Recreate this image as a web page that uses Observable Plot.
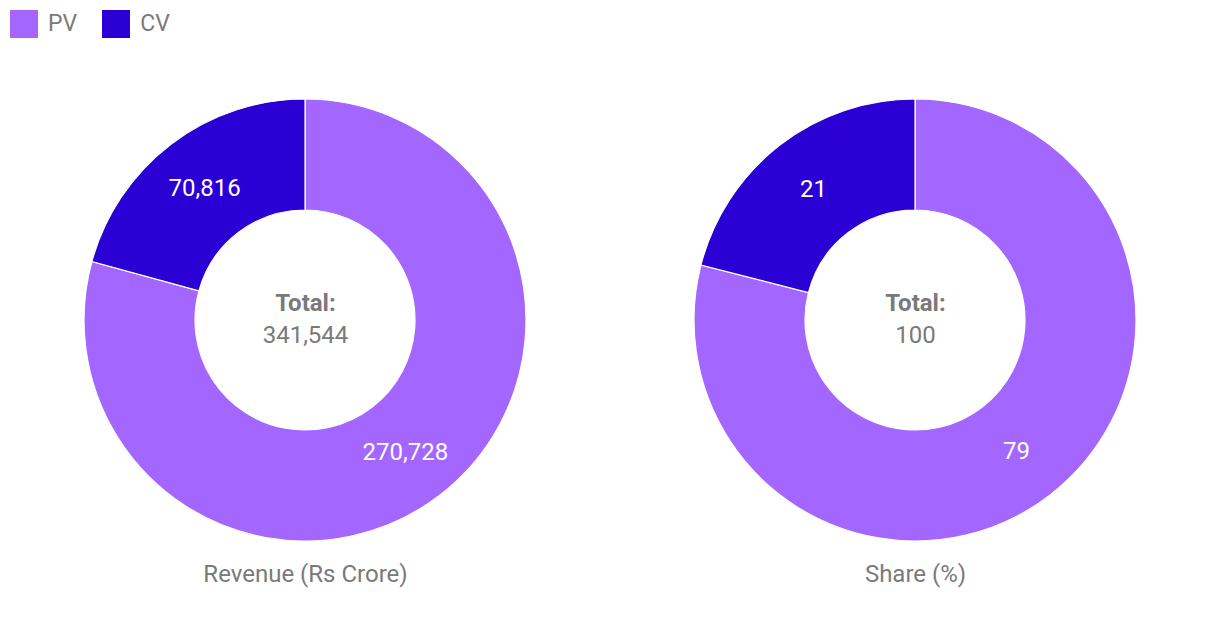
<!DOCTYPE html>
<html>
<head>
<meta charset="utf-8">
<script src="https://cdn.jsdelivr.net/npm/d3@7"></script>
<script src="https://cdn.jsdelivr.net/npm/@observablehq/plot@0.6"></script>
<style>
  html, body { margin: 0; padding: 0; background: #fff; }
  #legend { height: 48px; box-sizing: border-box; padding: 7px 0 0 10px; }
  .lg-swatch { margin-right: 25px !important; }
  .lg-swatch svg { margin-right: 10px !important; }
  #chart svg { display: block; }
</style>
</head>
<body>
<div id="legend"></div>
<div id="chart"></div>
<script>
const metrics = ["Revenue (Rs Crore)", "Share (%)"];
const segments = ["PV", "CV"];
const colors = ["#a366ff", "#2a00d4"];
const revenue = [270728, 70816];
const share = [79, 21];
const seriesByMetric = [revenue, share];

const rows = [];
metrics.forEach((m, mi) => {
  segments.forEach((s, si) => {
    rows.push({metric: m, segment: s, value: seriesByMetric[mi][si]});
  });
});
const totals = metrics.map((m, mi) => ({metric: m, total: d3.sum(seriesByMetric[mi])}));

const fmt = d3.format(",");
const innerFrac = 110 / 221;
const gray = "#7a7a7a";
const font = "Roboto, sans-serif";

// Legend
const legend = Plot.legend({
  color: {domain: segments, range: colors},
  legend: "swatches",
  swatchSize: 28,
  className: "lg",
  style: {fontSize: "23px", fontFamily: font, color: gray, background: "transparent"}
});
document.getElementById("legend").append(legend);

function donutRender(index, scales, values) {
  const r = Math.abs(scales.y(1) - scales.y(0));
  const idx = Array.from(index);
  const pie = d3.pie().sort(null).value(i => rows[i].value)(idx);
  const arc = d3.arc().innerRadius(r * innerFrac).outerRadius(r);
  const g = d3.create("svg:g");
  g.selectAll("path").data(pie).join("path")
    .attr("transform", d => `translate(${values.x[d.data]},${values.y[d.data]})`)
    .attr("d", arc)
    .attr("fill", d => values.fill[d.data])
    .attr("stroke", "white")
    .attr("stroke-width", 1.2);
  g.selectAll("text").data(pie).join("text")
    .attr("transform", d => {
      const [cx, cy] = arc.centroid(d);
      return `translate(${values.x[d.data] + cx},${values.y[d.data] + cy})`;
    })
    .attr("text-anchor", "middle")
    .attr("dominant-baseline", "central")
    .attr("fill", "white")
    .attr("font-family", font)
    .attr("font-size", 24)
    .text(d => fmt(rows[d.data].value));
  return g.node();
}

const chart = Plot.plot({
  width: 1220,
  height: 560,
  marginLeft: 0,
  marginRight: 0,
  marginTop: 51,
  marginBottom: 67,
  style: {fontFamily: font, background: "transparent"},
  fx: {domain: metrics, padding: 0, axis: null, label: null},
  x: {domain: [-1, 1], axis: null},
  y: {domain: [-1, 1], axis: null},
  color: {domain: segments, range: colors},
  marks: [
    Plot.axisFx({anchor: "bottom", label: null, tickSize: 0, tickPadding: 23, fontSize: 24, color: gray, fill: gray}),
    Plot.dot(rows, {fx: "metric", x: () => 0, y: () => 0, fill: "segment", render: donutRender}),
    Plot.text(totals, {fx: "metric", x: () => 0, y: () => 0, text: () => "Total:", dy: -17, fontSize: 24, fontWeight: "bold", fill: gray, fontFamily: font}),
    Plot.text(totals, {fx: "metric", x: () => 0, y: () => 0, text: d => fmt(d.total), dy: 15, fontSize: 24, fill: gray, fontFamily: font})
  ]
});
document.getElementById("chart").append(chart);
</script>
</body>
</html>
